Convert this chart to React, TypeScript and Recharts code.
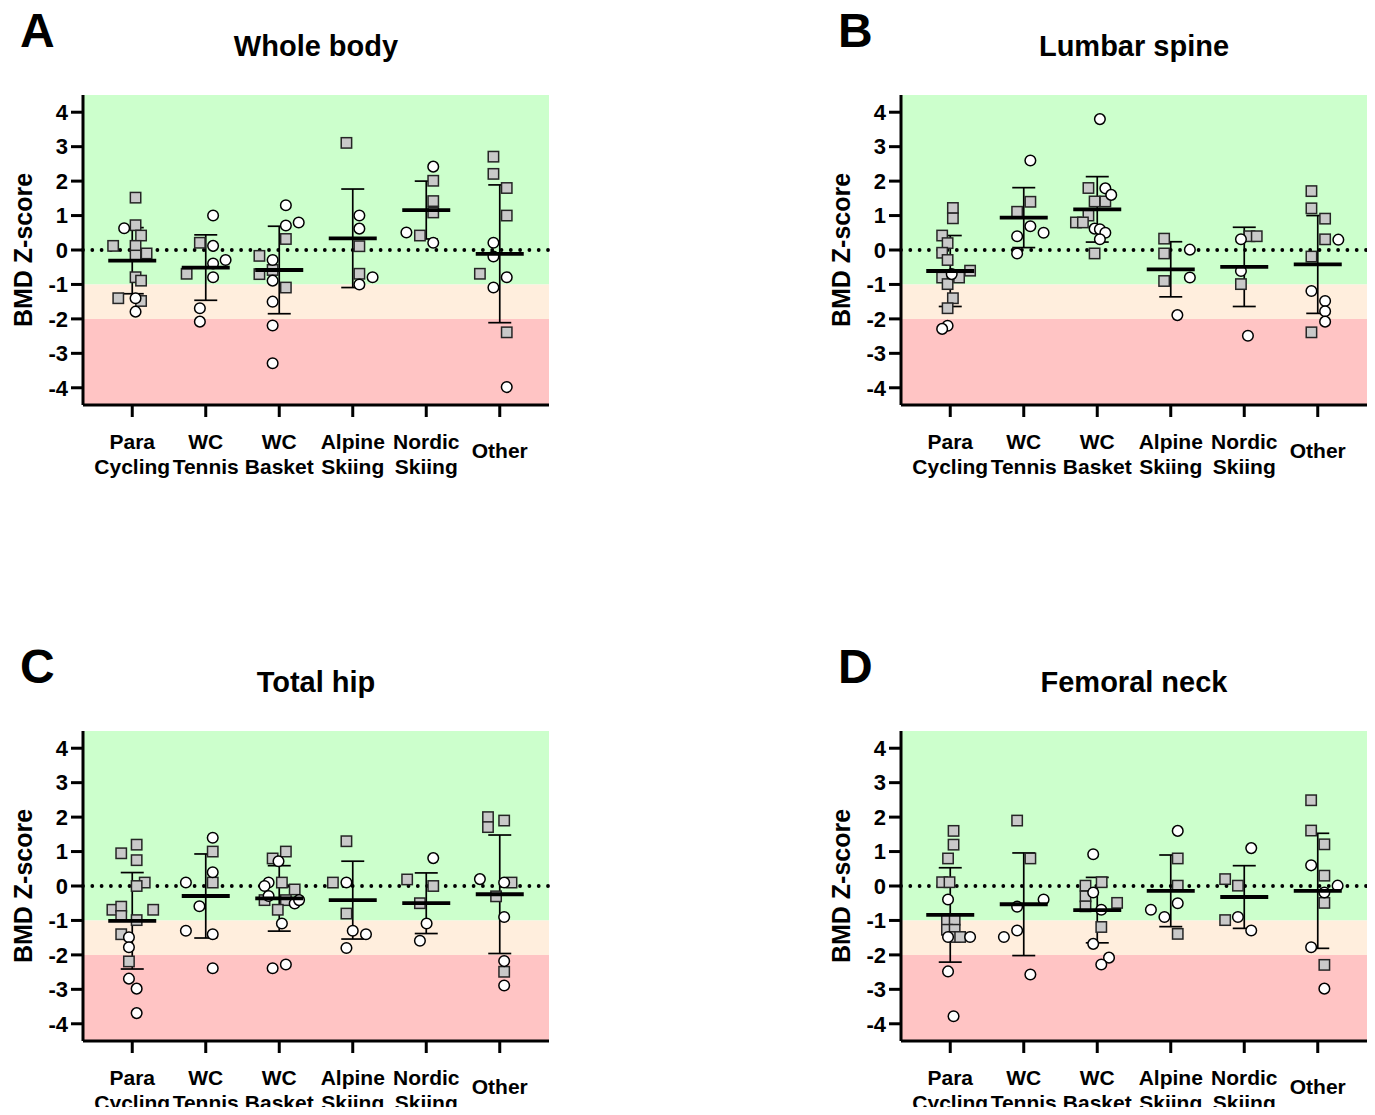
import { ScatterChart, Scatter, XAxis, YAxis, ReferenceArea, ReferenceLine, ErrorBar } from "recharts"

const FONT = "'Liberation Sans', Arial, Helvetica, sans-serif"

const SPORTS = [["Para", "Cycling"], ["WC", "Tennis"], ["WC", "Basket"], ["Alpine", "Skiing"], ["Nordic", "Skiing"], ["Other"]]
const SPORT_TICKS = [1, 2, 3, 4, 5, 6]
const Z_TICKS = [-4, -3, -2, -1, 0, 1, 2, 3, 4]

// each point: [sport 1-6, jitter (in category units), Z-score]
const wholeBodySquares = [
  [1, 0.045, 1.52], [1, 0.045, 0.72], [1, 0.12, 0.42], [1, -0.26, 0.12], [1, 0.045, 0.12], [1, 0.045, -0.16],
  [1, 0.195, -0.1], [1, 0.045, -0.79], [1, 0.12, -0.89], [1, -0.19, -1.4], [1, 0.12, -1.48],
  [2, -0.08, 0.21], [2, -0.26, -0.69],
  [3, 0.09, 0.32], [3, -0.27, -0.17], [3, -0.09, -0.58], [3, -0.27, -0.7], [3, 0.09, -1.09],
  [4, -0.086, 3.11], [4, 0.09, 0.11], [4, 0.09, -0.69],
  [5, 0.095, 2.01], [5, 0.095, 1.42], [5, 0.095, 1.09], [5, -0.086, 0.42],
  [6, -0.086, 2.71], [6, -0.086, 2.21], [6, 0.095, 1.8], [6, 0.095, 1.0], [6, -0.27, -0.69], [6, 0.095, -2.39],
]
const wholeBodyCircles = [
  [1, -0.11, 0.63], [1, 0.045, -1.4], [1, 0.045, -1.79],
  [2, 0.1, 1.0], [2, 0.1, 0.12], [2, 0.1, -0.39], [2, 0.27, -0.29], [2, 0.1, -0.79], [2, -0.08, -1.69], [2, -0.08, -2.08],
  [3, 0.09, 1.3], [3, 0.09, 0.71], [3, 0.265, 0.8], [3, -0.09, -0.29], [3, -0.09, -0.89], [3, -0.09, -1.5],
  [3, -0.09, -2.19], [3, -0.09, -3.29],
  [4, 0.09, 1.0], [4, 0.09, 0.62], [4, 0.27, -0.79], [4, 0.09, -1.0],
  [5, 0.095, 2.42], [5, -0.27, 0.51], [5, 0.095, 0.21],
  [6, -0.086, 0.21], [6, -0.086, -0.19], [6, 0.095, -0.79], [6, -0.086, -1.09], [6, 0.095, -3.98],
]
const wholeBodyMean = [-0.31, -0.51, -0.58, 0.34, 1.16, -0.11]
const wholeBodySd = [0.96, 0.95, 1.27, 1.43, 0.84, 2.0]

const lumbarSquares = [
  [1, 0.036, 1.22], [1, 0.036, 0.92], [1, -0.11, 0.42], [1, -0.036, 0.2], [1, -0.11, -0.08], [1, -0.036, -0.29],
  [1, 0.27, -0.6], [1, -0.11, -0.8], [1, 0.12, -0.8], [1, -0.036, -0.99], [1, 0.036, -1.4], [1, -0.036, -1.69],
  [2, 0.09, 1.4], [2, -0.09, 1.11],
  [3, -0.12, 1.8], [3, -0.036, 1.41], [3, 0.11, 1.41], [3, -0.12, 1.0], [3, -0.29, 0.8], [3, -0.195, 0.8], [3, -0.036, -0.1],
  [4, -0.09, 0.33], [4, -0.09, -0.1], [4, -0.09, -0.9],
  [5, 0.07, 0.4], [5, 0.17, 0.4], [5, -0.045, -0.99],
  [6, -0.086, 1.71], [6, -0.086, 1.21], [6, 0.1, 0.91], [6, 0.1, 0.31], [6, -0.086, -0.19], [6, -0.086, -2.39],
]
const lumbarCircles = [
  [1, 0.02, -0.7], [1, -0.036, -2.2], [1, -0.11, -2.29],
  [2, 0.09, 2.6], [2, 0.09, 0.69], [2, 0.27, 0.5], [2, -0.09, 0.4], [2, -0.09, -0.1],
  [3, 0.036, 3.8], [3, 0.11, 1.79], [3, 0.19, 1.6], [3, -0.036, 0.62], [3, 0.036, 0.6], [3, 0.11, 0.5], [3, 0.036, 0.31],
  [4, 0.26, 0.01], [4, 0.26, -0.8], [4, 0.09, -1.89],
  [5, -0.045, 0.31], [5, -0.045, -0.61], [5, 0.05, -2.49],
  [6, 0.28, 0.3], [6, -0.086, -1.19], [6, 0.1, -1.48], [6, 0.1, -1.78], [6, 0.1, -2.08],
]
const lumbarMean = [-0.61, 0.94, 1.18, -0.56, -0.49, -0.42]
const lumbarSd = [1.03, 0.87, 0.95, 0.8, 1.15, 1.42]

const hipSquares = [
  [1, 0.06, 1.2], [1, -0.15, 0.95], [1, 0.06, 0.75], [1, 0.17, 0.1], [1, 0.06, 0.0], [1, -0.27, -0.69], [1, -0.15, -0.6],
  [1, -0.15, -0.87], [1, 0.285, -0.69], [1, 0.06, -0.99], [1, -0.15, -1.4], [1, -0.045, -2.19],
  [2, 0.095, 1.0], [2, 0.095, 0.1],
  [3, 0.09, 1.0], [3, -0.09, 0.8], [3, 0.036, 0.1], [3, 0.21, -0.1], [3, -0.2, -0.41], [3, 0.09, -0.41], [3, -0.02, -0.69],
  [4, -0.086, 1.3], [4, -0.27, 0.1], [4, -0.086, -0.8],
  [5, -0.26, 0.19], [5, 0.095, 0.0], [5, -0.086, -0.5],
  [6, -0.16, 2.0], [6, -0.16, 1.71], [6, 0.06, 1.9], [6, 0.16, 0.1], [6, -0.05, -0.3], [6, 0.06, -2.49],
]
const hipCircles = [
  [1, -0.045, -1.49], [1, -0.045, -1.78], [1, -0.045, -2.69], [1, 0.06, -2.98], [1, 0.06, -3.69],
  [2, 0.095, 1.4], [2, 0.095, 0.4], [2, -0.27, 0.1], [2, -0.086, -0.59], [2, -0.27, -1.3], [2, 0.095, -1.4], [2, 0.095, -2.39],
  [3, -0.01, 0.72], [3, -0.145, 0.1], [3, -0.2, 0.0], [3, -0.145, -0.29], [3, 0.21, -0.51], [3, 0.27, -0.41],
  [3, 0.036, -1.09], [3, -0.09, -2.39], [3, 0.09, -2.28],
  [4, -0.086, 0.1], [4, 0.0, -1.3], [4, 0.18, -1.4], [4, -0.086, -1.8],
  [5, 0.095, 0.81], [5, 0.005, -1.09], [5, -0.086, -1.59],
  [6, -0.27, 0.2], [6, 0.06, 0.1], [6, 0.06, -0.9], [6, 0.06, -2.18], [6, 0.06, -2.89],
]
const hipMean = [-1.01, -0.29, -0.36, -0.41, -0.5, -0.24]
const hipSd = [1.4, 1.22, 0.95, 1.13, 0.88, 1.72]

const neckSquares = [
  [1, 0.045, 1.6], [1, 0.045, 1.2], [1, -0.03, 0.8], [1, -0.11, 0.11], [1, -0.01, 0.11], [1, -0.045, -0.98],
  [1, 0.06, -0.98], [1, -0.045, -1.27], [1, 0.06, -1.27], [1, 0.06, -1.48], [1, 0.135, -1.48],
  [2, -0.09, 1.9], [2, 0.09, 0.8],
  [3, 0.06, 0.11], [3, -0.16, 0.01], [3, -0.16, -0.3], [3, -0.16, -0.59], [3, 0.27, -0.49], [3, 0.055, -1.19],
  [4, 0.095, 0.8], [4, 0.095, 0.01], [4, 0.095, -1.39],
  [5, -0.26, 0.2], [5, -0.086, 0.01], [5, -0.26, -0.99],
  [6, -0.09, 2.49], [6, -0.09, 1.61], [6, 0.09, 1.21], [6, 0.09, 0.3], [6, 0.09, -0.49], [6, 0.09, -2.29],
]
const neckCircles = [
  [1, -0.03, -0.39], [1, -0.03, -1.48], [1, 0.27, -1.48], [1, -0.03, -2.48], [1, 0.045, -3.78],
  [2, 0.27, -0.39], [2, -0.09, -0.6], [2, -0.09, -1.29], [2, -0.27, -1.48], [2, 0.09, -2.57],
  [3, -0.055, 0.92], [3, -0.055, -0.19], [3, 0.055, -0.69], [3, -0.055, -1.68], [3, 0.16, -2.08], [3, 0.055, -2.28],
  [4, 0.095, 1.6], [4, 0.095, -0.5], [4, -0.27, -0.69], [4, -0.086, -0.9],
  [5, 0.095, 1.1], [5, -0.086, -0.9], [5, 0.095, -1.29],
  [6, -0.09, 0.6], [6, 0.27, 0.01], [6, 0.09, -0.19], [6, -0.09, -1.78], [6, 0.09, -2.98],
]
const neckMean = [-0.84, -0.53, -0.7, -0.14, -0.32, -0.14]
const neckSd = [1.37, 1.49, 0.95, 1.04, 0.91, 1.67]

const SquareMark = (props: any) => {
  const { cx, cy } = props
  return <rect x={cx - 5.2} y={cy - 5.2} width={10.4} height={10.4} fill="#c9c9c9" stroke="#262626" strokeWidth={1.5} />
}

const CircleMark = (props: any) => {
  const { cx, cy } = props
  return <circle cx={cx} cy={cy} r={5.3} fill="#fff" stroke="#000" strokeWidth={1.5} />
}

const MeanMark = (props: any) => {
  const { cx, cy } = props
  return <line x1={cx - 24} x2={cx + 24} y1={cy} y2={cy} stroke="#000" strokeWidth={3.8} />
}

const SportTick = (props: any) => {
  const { x, y, payload } = props
  const lines = SPORTS[payload.value - 1]
  if (!lines) return null
  const style = { fontFamily: FONT, fontWeight: 700, fontSize: 21, fill: "#000" }
  if (lines.length === 1) {
    return (
      <text x={x} y={y + 39} textAnchor="middle" style={style}>
        {lines[0]}
      </text>
    )
  }
  return (
    <text textAnchor="middle" style={style}>
      <tspan x={x} y={y + 30}>{lines[0]}</tspan>
      <tspan x={x} y={y + 55}>{lines[1]}</tspan>
    </text>
  )
}

function Panel({ letter, title, squares, circles, mean, sd, left, top }: any) {
  const sqData = squares.map(([c, j, z]: number[]) => ({ x: c + j, y: z }))
  const ciData = circles.map(([c, j, z]: number[]) => ({ x: c + j, y: z }))
  const stats = mean.map((m: number, i: number) => ({ x: i + 1, y: m, sd: sd[i] }))

  return (
    <div style={{ position: "absolute", left, top, width: 560, height: 500 }}>
      <ScatterChart width={560} height={500} margin={{ top: 95, right: 11, bottom: 0, left: 0 }}>
        <XAxis
          type="number"
          dataKey="x"
          domain={[0.33, 6.67]}
          ticks={SPORT_TICKS}
          allowDataOverflow
          height={95}
          tickSize={12}
          tick={<SportTick />}
          axisLine={{ stroke: "#000", strokeWidth: 3 }}
          tickLine={{ stroke: "#000", strokeWidth: 3 }}
        />
        <YAxis
          type="number"
          dataKey="y"
          domain={[-4.5, 4.5]}
          ticks={Z_TICKS}
          allowDataOverflow
          width={83}
          tickSize={12}
          tickMargin={3}
          tick={{ fill: "#000", fontSize: 22, fontWeight: 700, fontFamily: FONT }}
          axisLine={{ stroke: "#000", strokeWidth: 3 }}
          tickLine={{ stroke: "#000", strokeWidth: 3 }}
        />
        <ReferenceArea y1={-1} y2={4.5} fill="#ccffcc" fillOpacity={1} stroke="none" />
        <ReferenceArea y1={-2} y2={-1} fill="#ffeedd" fillOpacity={1} stroke="none" />
        <ReferenceArea y1={-4.5} y2={-2} fill="#ffc4c4" fillOpacity={1} stroke="none" />
        <ReferenceLine y={0} stroke="#000" strokeWidth={3.8} strokeDasharray="0 9.3" strokeLinecap="round" />
        <Scatter data={sqData} shape={SquareMark} isAnimationActive={false} />
        <Scatter data={ciData} shape={CircleMark} isAnimationActive={false} />
        <Scatter data={stats} shape={MeanMark} isAnimationActive={false}>
          <ErrorBar dataKey="sd" direction="y" width={11.5} stroke="#000" strokeWidth={1.7} isAnimationActive={false} />
        </Scatter>
      </ScatterChart>
      <svg width={560} height={500} style={{ position: "absolute", left: 0, top: 0, pointerEvents: "none" }}>
        <text x={20} y={47} style={{ fontFamily: FONT, fontWeight: 700, fontSize: 48, fill: "#000" }}>
          {letter}
        </text>
        <text x={316} y={56} textAnchor="middle" style={{ fontFamily: FONT, fontWeight: 700, fontSize: 29, fill: "#000" }}>
          {title}
        </text>
        <text
          transform="translate(32,250) rotate(-90)"
          textAnchor="middle"
          style={{ fontFamily: FONT, fontWeight: 700, fontSize: 25, fill: "#000" }}
        >
          BMD Z-score
        </text>
      </svg>
    </div>
  )
}

export default function App() {
  return (
    <div style={{ position: "relative", width: 1375, height: 1115, margin: -8, background: "#fff", overflow: "hidden" }}>
      <Panel letter="A" title="Whole body" squares={wholeBodySquares} circles={wholeBodyCircles} mean={wholeBodyMean} sd={wholeBodySd} left={0} top={0} />
      <Panel letter="B" title="Lumbar spine" squares={lumbarSquares} circles={lumbarCircles} mean={lumbarMean} sd={lumbarSd} left={818} top={0} />
      <Panel letter="C" title="Total hip" squares={hipSquares} circles={hipCircles} mean={hipMean} sd={hipSd} left={0} top={636} />
      <Panel letter="D" title="Femoral neck" squares={neckSquares} circles={neckCircles} mean={neckMean} sd={neckSd} left={818} top={636} />
    </div>
  )
}
